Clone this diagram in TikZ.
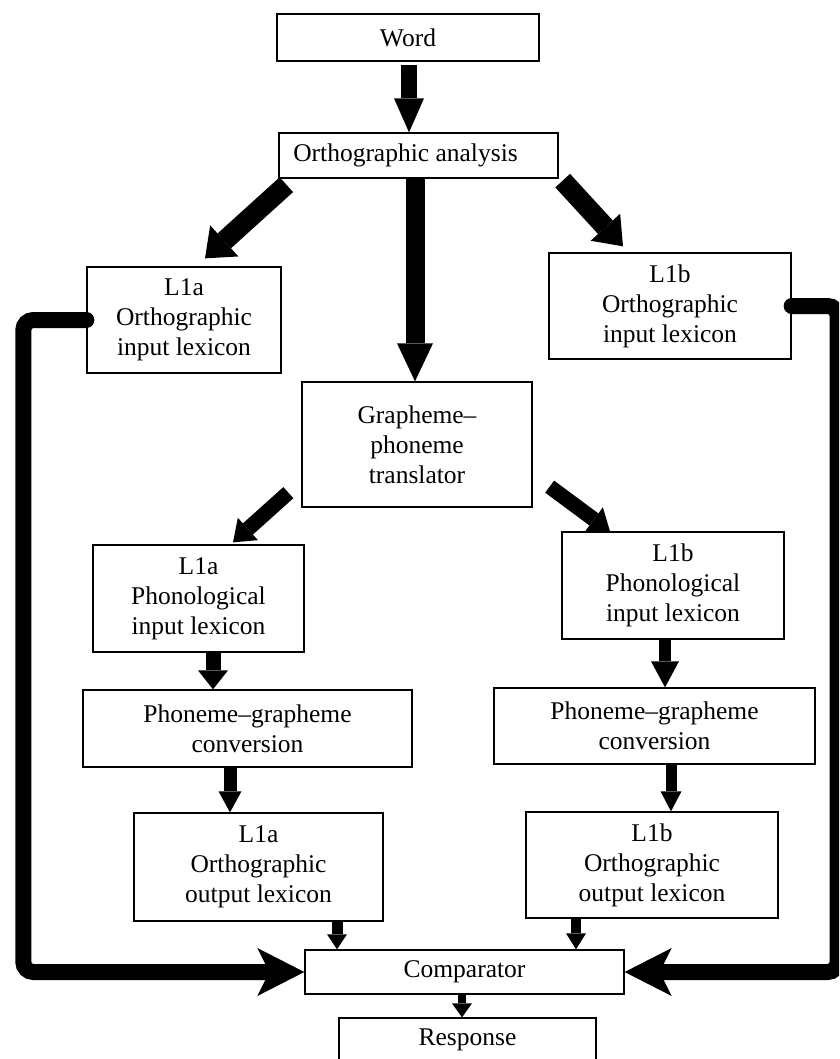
\documentclass[tikz,border=0pt]{standalone}
\usepackage{fontspec}
\setmainfont{Liberation Serif}
\usetikzlibrary{arrows.meta,calc}
\newcommand{\dfont}{\fontsize{25.5}{30}\selectfont}
\begin{document}
\begin{tikzpicture}[x=1pt,y=-1pt,
  box/.style={draw, line width=1.3pt, align=center, inner sep=0pt, font=\dfont},
  blk/.style args={#1/#2/#3}{line width=#1, -{Triangle[length=#2, width=#3, line width=0pt]}},
  fb/.style={line width=16pt, rounded corners=10pt, line cap=round,
    -{Stealth[length=47pt, width=48pt, inset=12pt, line width=0pt]}}]
\useasboundingbox (0,0) rectangle (839,1059);
\clip (0,0) rectangle (839,1059);

% boxes
\node[box, minimum width=262pt, minimum height=47pt] (word) at (408,37.5) {Word};
\node[box, minimum width=279pt, minimum height=45pt] (oa) at (418.5,155.5) {Orthographic analysis\hspace*{26pt}};
\node[box, minimum width=194pt, minimum height=106pt] (l1aoi) at (184,320) {L1a\\Orthographic\\input lexicon};
\node[box, minimum width=242pt, minimum height=106pt] (l1boi) at (670,306) {L1b\\Orthographic\\input lexicon};
\node[box, minimum width=230pt, minimum height=125pt] (gpt) at (417,444.5) {Grapheme--\\phoneme\\translator};
\node[box, minimum width=211pt, minimum height=107pt] (l1api) at (198.5,598.5) {L1a\\Phonological\\input lexicon};
\node[box, minimum width=222pt, minimum height=107pt] (l1bpi) at (673,585.5) {L1b\\Phonological\\input lexicon};
\node[box, minimum width=329pt, minimum height=77pt] (pga) at (247.5,728.5) {Phoneme--grapheme\\conversion};
\node[box, minimum width=321pt, minimum height=76pt] (pgb) at (654.5,726) {Phoneme--grapheme\\conversion};
\node[box, minimum width=249pt, minimum height=108pt] (l1aoo) at (258.5,867) {L1a\\Orthographic\\output lexicon};
\node[box, minimum width=252pt, minimum height=106pt] (l1boo) at (652,865) {L1b\\Orthographic\\output lexicon};
\node[box, minimum width=319pt, minimum height=44pt] (comp) at (464.5,972) {Comparator};
\node[box, minimum width=257pt, minimum height=44pt] (resp) at (467.5,1040) {Response};

% block arrows
\draw[blk=16pt/34pt/30pt] ($(word.south)+(1,3)$) -- ($(oa.north)+(-9.5,0)$);
\draw[blk=20pt/26pt/42pt] ($(oa.south west)+(8,6)$) -- ($(l1aoi.north)+(21,-8)$);
\draw[blk=19pt/38pt/36pt] ($(oa.south)+(-3.5,0)$) -- ($(gpt.north)+(-2,0)$);
\draw[blk=20pt/26pt/40pt] ($(oa.south east)+(4,2)$) -- ($(l1boi.north)+(-47,-6)$);
\draw[blk=15pt/20pt/30pt] ($(gpt.south west)+(-13,-15)$) -- ($(l1api.north)+(34.5,-2)$);
\draw[blk=15pt/20pt/30pt] ($(gpt.south east)+(17,-21)$) -- ($(l1bpi.north)+(-63,0)$);
\draw[blk=15pt/19pt/30pt] ($(l1api.south)+(14.5,0)$) -- ($(pga.north)+(-34.5,0)$);
\draw[blk=13pt/21pt/23pt] ($(pga.south)+(-17.5,0)$) -- ($(l1aoo.north)+(-28.5,0)$);
\draw[blk=11pt/15pt/20pt] ($(l1aoo.south)+(78.5,0)$) -- ($(comp.north)+(-127.5,0)$);
\draw[blk=12pt/26pt/28pt] ($(l1bpi.south)+(-8,0)$) -- ($(pgb.north)+(10.5,0)$);
\draw[blk=11pt/20pt/21pt] ($(pgb.south)+(16.5,0)$) -- ($(l1boo.north)+(19,0)$);
\draw[blk=10pt/16pt/20pt] ($(l1boo.south)+(-76,0)$) -- ($(comp.north)+(111.5,0)$);
\draw[blk=8pt/14pt/20pt] ($(comp.south)+(-2.5,0)$) -- ($(resp.north)+(-5.5,0)$);

% feedback lines
\draw[fb] (l1aoi.west) -- ++(-63,0) |- (comp.west);
\draw[fb] (l1boi.east) -- ++(46,0) |- (comp.east);
\end{tikzpicture}
\end{document}
